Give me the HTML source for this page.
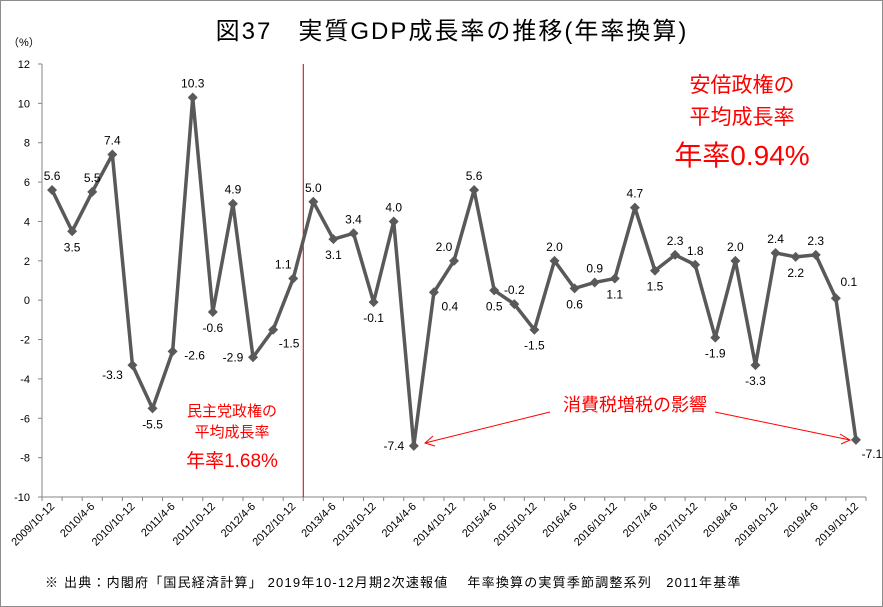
<!DOCTYPE html>
<html><head><meta charset="utf-8">
<style>
body{margin:0;background:#fff;}
svg{display:block;font-family:"Liberation Sans","Noto Sans CJK JP",sans-serif;}
</style></head>
<body>
<svg id="chart" width="883" height="607" viewBox="0 0 883 607" xmlns="http://www.w3.org/2000/svg">
<rect x="0.5" y="0.5" width="882" height="606" fill="#fff" stroke="#8c8c8c"/>
<text x="452" y="39" text-anchor="middle" font-size="24" letter-spacing="2" fill="#000">図37　実質GDP成長率の推移(年率換算)</text>
<text x="8" y="46" font-size="11" fill="#000">（%）</text>
<g id="axes"></g>
<g id="marks"></g>
<g fill="#ff0000" text-anchor="middle">
<text x="742" y="92" font-size="21">安倍政権の</text>
<text x="742" y="124" font-size="21">平均成長率</text>
<text x="742" y="165" font-size="28">年率0.94%</text>
</g>
<g fill="#ff0000" text-anchor="middle">
<text x="232" y="416" font-size="15">民主党政権の</text>
<text x="232" y="437" font-size="15">平均成長率</text>
<text x="232" y="467" font-size="19">年率1.68%</text>
</g>
<g>
<text x="635" y="411" font-size="18" fill="#ff0000" text-anchor="middle">消費税増税の影響</text>
<line x1="550" y1="412" x2="425" y2="443" stroke="#ff0000" stroke-width="1"/>
<polyline points="433,436 425,443 435,446" fill="none" stroke="#ff0000"/>
<line x1="715" y1="412" x2="850" y2="440" stroke="#ff0000" stroke-width="1"/>
<polyline points="840,434 850,440 841,444" fill="none" stroke="#ff0000"/>
</g>
<text x="45" y="587" font-size="13" letter-spacing="1.2" fill="#000">※ 出典：内閣府「国民経済計算」 2019年10-12月期2次速報値　 年率換算の実質季節調整系列　2011年基準</text>
</svg>
<script>
const categories = ["2009/10-12","2010/1-3","2010/4-6","2010/7-9","2010/10-12","2011/1-3","2011/4-6","2011/7-9","2011/10-12","2012/1-3","2012/4-6","2012/7-9","2012/10-12","2013/1-3","2013/4-6","2013/7-9","2013/10-12","2014/1-3","2014/4-6","2014/7-9","2014/10-12","2015/1-3","2015/4-6","2015/7-9","2015/10-12","2016/1-3","2016/4-6","2016/7-9","2016/10-12","2017/1-3","2017/4-6","2017/7-9","2017/10-12","2018/1-3","2018/4-6","2018/7-9","2018/10-12","2019/1-3","2019/4-6","2019/7-9","2019/10-12"];
const growthValues = [5.6,3.5,5.5,7.4,-3.3,-5.5,-2.6,10.3,-0.6,4.9,-2.9,-1.5,1.1,5.0,3.1,3.4,-0.1,4.0,-7.4,0.4,2.0,5.6,0.5,-0.2,-1.5,2.0,0.6,0.9,1.1,4.7,1.5,2.3,1.8,-1.9,2.0,-3.3,2.4,2.2,2.3,0.1,-7.1];
const yTicks = [12,10,8,6,4,2,0,-2,-4,-6,-8,-10];
const labelPos = ["a","b","a","a","lb","b","r","a","b","a","l","rb","al","a","b","a","b","a","l","rb","al","a","b","a","b","a","b","a","b","a","b","a","a","b","a","b","a","b","a","ar","rb"];
const NS="http://www.w3.org/2000/svg";
const X0=42, X1=866, Y0=64, Y1=497, yMin=-10, yMax=12;
const step=(X1-X0)/categories.length;
function xS(i){return X0+step*(i+0.5);}
function yS(v){return Y1-(v-yMin)/(yMax-yMin)*(Y1-Y0);}
function mk(tag,attrs,parent){const e=document.createElementNS(NS,tag);for(const k in attrs)e.setAttribute(k,attrs[k]);parent.appendChild(e);return e;}
const axes=document.getElementById('axes'), marks=document.getElementById('marks');
let e=mk('line',{x1:X0,y1:Y0,x2:X0,y2:Y1,stroke:'#868686'},axes);


e=mk('line',{x1:X0,y1:Y1,x2:X1,y2:Y1,stroke:'#868686'},axes);


yTicks.forEach(t=>{
  mk('line',{x1:X0-4,y1:yS(t),x2:X0,y2:yS(t),stroke:'#868686'},axes);
  const tx=mk('text',{x:X0-12,y:yS(t)+4,'font-size':11,'text-anchor':'end',fill:'#000'},axes);
  tx.textContent=t;
  
  
});
for(let i=0;i<=categories.length;i++){mk('line',{x1:X0+step*i,y1:Y1,x2:X0+step*i,y2:Y1+4,stroke:'#868686'},axes);}
categories.forEach((c,i)=>{
  if(i%2!==0)return;
  const x=xS(i)+3,y=Y1+10;
  const tx=mk('text',{x:x,y:y,'font-size':11,'text-anchor':'end',fill:'#000',transform:`rotate(-45 ${x} ${y})`},axes);
  tx.textContent=c;
  
  
});
const dx=(xS(12)+xS(13))/2;
e=mk('line',{x1:dx,y1:Y0,x2:dx,y2:Y1,stroke:'#c00000','stroke-width':1},axes);


const pts=growthValues.map((v,i)=>xS(i)+','+yS(v)).join(' ');
e=mk('polyline',{points:pts,fill:'none',stroke:'#595959','stroke-width':3.5,'stroke-linejoin':'round'},marks);


growthValues.forEach((v,i)=>{
  const x=xS(i),y=yS(v),s=5;
  const d=mk('polygon',{points:`${x},${y-s} ${x+s},${y} ${x},${y+s} ${x-s},${y}`,fill:'#595959'},marks);
  
  
  const p=labelPos[i];let lx=x,ly=y;
  if(p==='a'){ly=y-10;}
  else if(p==='b'){ly=y+20;}
  else if(p==='l'){lx=x-20;ly=y+4;}
  else if(p==='r'){lx=x+22;ly=y+8;}
  else if(p==='lb'){lx=x-20;ly=y+14;}
  else if(p==='rb'){lx=x+16;ly=y+18;}
  else if(p==='al'){lx=x-10;ly=y-10;}
  else if(p==='ar'){lx=x+13;ly=y-12;}
  const t=mk('text',{x:lx,y:ly,'font-size':12,'text-anchor':'middle',fill:'#000'},marks);
  t.textContent=v.toFixed(1);
  
  
});
</script>
</body></html>
